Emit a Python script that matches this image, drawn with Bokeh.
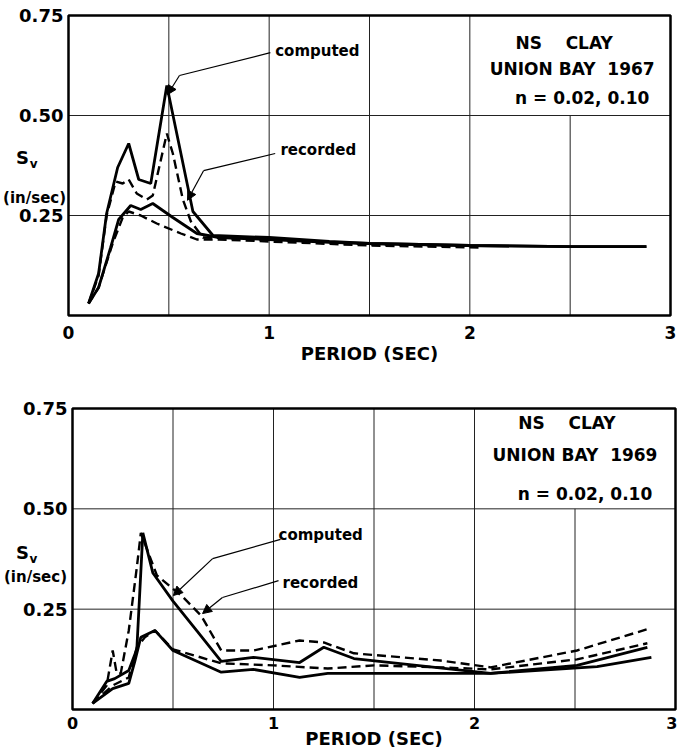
from bokeh.plotting import figure
from bokeh.models import Range1d, FixedTicker, Label, Arrow, NormalHead, NumeralTickFormatter
from bokeh.layouts import column
from bokeh.embed import file_html
from bokeh.resources import INLINE

FONT = "DejaVu Sans"
NB = "\u00a0"

# ---------------- axes / ticks ----------------
x_lim = (0, 3)
y_lim = (0, 0.75)
x_ticks = [0, 1, 2, 3]
y_ticks = [0.25, 0.50, 0.75]
grid_x_full = [0.5, 1.0, 1.5, 2.0]
grid_x_short = [2.5]          # stops under the caption box
grid_x_short_top = 0.5
grid_y = [0.25, 0.50]

# ---------------- 1967 record (top) ----------------
t67_comp02_x = [0.10, 0.15, 0.19, 0.245, 0.30, 0.35, 0.41, 0.49, 0.62, 0.72, 1.0, 1.3, 1.5, 2.0, 2.5, 2.88]
t67_comp02_y = [0.03, 0.105, 0.255, 0.37, 0.43, 0.34, 0.33, 0.575, 0.26, 0.20, 0.195, 0.185, 0.18, 0.175, 0.172, 0.172]
t67_comp10_x = [0.10, 0.15, 0.21, 0.25, 0.31, 0.36, 0.42, 0.52, 0.64, 0.75, 1.0, 1.3, 1.5, 2.0, 2.5, 2.88]
t67_comp10_y = [0.03, 0.07, 0.17, 0.24, 0.275, 0.265, 0.28, 0.245, 0.205, 0.195, 0.19, 0.183, 0.18, 0.175, 0.172, 0.172]
t67_rec02_x = [0.10, 0.15, 0.19, 0.235, 0.27, 0.30, 0.34, 0.39, 0.42, 0.49, 0.52, 0.57, 0.61, 0.67, 1.0, 1.5, 2.05]
t67_rec02_y = [0.03, 0.10, 0.25, 0.335, 0.33, 0.34, 0.305, 0.29, 0.30, 0.455, 0.405, 0.29, 0.235, 0.195, 0.19, 0.178, 0.173]
t67_rec10_x = [0.10, 0.15, 0.22, 0.27, 0.30, 0.36, 0.44, 0.56, 0.64, 0.75, 1.0, 1.5, 2.05]
t67_rec10_y = [0.03, 0.07, 0.18, 0.245, 0.26, 0.25, 0.23, 0.205, 0.19, 0.19, 0.185, 0.175, 0.17]

# ---------------- 1969 record (bottom) ----------------
t69_comp02_x = [0.10, 0.17, 0.21, 0.28, 0.32, 0.35, 0.40, 0.50, 0.62, 0.74, 0.90, 1.13, 1.25, 1.40, 2.08, 2.51, 2.86]
t69_comp02_y = [0.015, 0.07, 0.077, 0.097, 0.15, 0.44, 0.34, 0.27, 0.195, 0.12, 0.13, 0.117, 0.155, 0.127, 0.09, 0.11, 0.155]
t69_comp10_x = [0.10, 0.20, 0.28, 0.31, 0.34, 0.41, 0.50, 0.74, 0.90, 1.13, 1.27, 2.08, 2.61, 2.88]
t69_comp10_y = [0.015, 0.052, 0.065, 0.12, 0.18, 0.197, 0.147, 0.093, 0.10, 0.08, 0.09, 0.09, 0.107, 0.13]
t69_rec02_x = [0.10, 0.17, 0.20, 0.22, 0.24, 0.28, 0.32, 0.34, 0.42, 0.55, 0.64, 0.74, 0.90, 1.13, 1.25, 1.40, 1.83, 2.08, 2.51, 2.86]
t69_rec02_y = [0.015, 0.06, 0.147, 0.09, 0.09, 0.197, 0.354, 0.44, 0.334, 0.28, 0.234, 0.147, 0.147, 0.172, 0.167, 0.14, 0.122, 0.105, 0.147, 0.20]
t69_rec10_x = [0.10, 0.20, 0.28, 0.32, 0.36, 0.41, 0.50, 0.74, 1.0, 1.27, 1.50, 1.83, 2.08, 2.51, 2.86]
t69_rec10_y = [0.015, 0.06, 0.08, 0.155, 0.18, 0.197, 0.15, 0.115, 0.11, 0.102, 0.11, 0.105, 0.10, 0.125, 0.165]

# ---------------- annotations ----------------
t67_caption = ["NS" + NB * 4 + "CLAY", "UNION" + NB + "BAY" + NB * 2 + "1967", "n = 0.02, 0.10"]
t67_caption_x = [2.47, 2.51, 2.56]
t67_caption_y = [0.682, 0.617, 0.543]
t67_comp_leader_x = [1.006, 0.553, 0.493]
t67_comp_leader_y = [0.657, 0.600, 0.552]
t67_rec_leader_x = [1.03, 0.673, 0.593]
t67_rec_leader_y = [0.405, 0.362, 0.288]
t67_comp_text = (1.03, 0.662)
t67_rec_text = (1.056, 0.415)
t67_sv = [(-0.229, 0.395), (-0.174, 0.380), (-0.169, 0.295)]   # "S", "v", "(in/sec)"

t69_caption = ["NS" + NB * 4 + "CLAY", "UNION" + NB + "BAY" + NB * 2 + "1969", "n = 0.02, 0.10"]
t69_caption_x = [2.46, 2.50, 2.55]
t69_caption_y = [0.713, 0.633, 0.538]
t69_comp_leader_x = [1.035, 0.697, 0.502]
t69_comp_leader_y = [0.424, 0.376, 0.284]
t69_rec_leader_x = [1.025, 0.746, 0.647]
t69_rec_leader_y = [0.321, 0.279, 0.239]
t69_comp_text = (1.025, 0.434)
t69_rec_text = (1.045, 0.316)
t69_sv = [(-0.249, 0.391), (-0.194, 0.376), (-0.184, 0.329)]


def make_panel(w, h, f_left, f_right, f_top, f_bottom, series, caption, cap_x, cap_y,
               comp_lx, comp_ly, rec_lx, rec_ly, comp_t, rec_t, sv,
               tick_fs, tick_standoff, lab_fs, lab_standoff):
    # frame covers the whole canvas; the data box (0..3, 0..0.75) sits at the given pixel edges
    xpu = (f_right - f_left) / (x_lim[1] - x_lim[0])
    ypu = (f_bottom - f_top) / (y_lim[1] - y_lim[0])
    xr = Range1d(x_lim[0] - f_left / xpu, x_lim[1] + (w - f_right) / xpu)
    yr = Range1d(y_lim[0] - (h - f_bottom) / ypu, y_lim[1] + f_top / ypu)
    p = figure(width=w, height=h, x_range=xr, y_range=yr,
               output_backend="svg", toolbar_location=None,
               min_border_left=0, min_border_right=0, min_border_top=0, min_border_bottom=0)
    p.background_fill_color = "white"
    p.border_fill_color = "white"
    p.outline_line_color = None
    p.grid.visible = False

    for ax in (p.xaxis[0], p.yaxis[0]):
        ax.fixed_location = 0
        ax.axis_line_color = None
        ax.major_tick_line_color = None
        ax.minor_tick_line_color = None
        ax.major_tick_out = 0
        ax.minor_tick_out = 0
        ax.major_label_text_font = FONT
        ax.major_label_text_font_style = "bold"
        ax.major_label_text_color = "black"
    p.xaxis.bounds = x_lim
    p.yaxis.bounds = y_lim
    p.xaxis.ticker = FixedTicker(ticks=x_ticks)
    p.yaxis.ticker = FixedTicker(ticks=y_ticks)
    p.yaxis.formatter = NumeralTickFormatter(format="0.00")
    p.xaxis.major_label_text_font_size = tick_fs
    p.yaxis.major_label_text_font_size = "18px"
    p.xaxis.major_label_standoff = tick_standoff
    p.yaxis.major_label_standoff = 5
    p.xaxis.axis_label = "PERIOD (SEC)"
    p.xaxis.axis_label_text_font = FONT
    p.xaxis.axis_label_text_font_style = "bold"
    p.xaxis.axis_label_text_font_size = lab_fs
    p.xaxis.axis_label_standoff = lab_standoff
    p.xaxis.axis_label_text_color = "black"

    # grid lines
    p.segment(x0=grid_x_full, y0=[y_lim[0]] * len(grid_x_full), x1=grid_x_full,
              y1=[y_lim[1]] * len(grid_x_full), line_color="#222222", line_width=1)
    p.segment(x0=grid_x_short, y0=[y_lim[0]] * len(grid_x_short), x1=grid_x_short,
              y1=[grid_x_short_top] * len(grid_x_short), line_color="#222222", line_width=1)
    p.segment(x0=[x_lim[0]] * len(grid_y), y0=grid_y, x1=[x_lim[1]] * len(grid_y), y1=grid_y,
              line_color="#222222", line_width=1)
    # plot box
    p.quad(left=[x_lim[0]], right=[x_lim[1]], bottom=[y_lim[0]], top=[y_lim[1]],
           fill_color=None, line_color="black", line_width=2.5)

    # curves
    for xs, ys, dash in series:
        if dash:
            p.line(xs, ys, line_color="black", line_width=2.4, line_dash="9 5")
        else:
            p.line(xs, ys, line_color="black", line_width=2.8)

    # leaders
    for lx, ly in ((comp_lx, comp_ly), (rec_lx, rec_ly)):
        p.line(lx[:2], ly[:2], line_color="black", line_width=1.2)
        p.add_layout(Arrow(end=NormalHead(size=9, fill_color="black", line_color="black"),
                           x_start=lx[1], y_start=ly[1], x_end=lx[2], y_end=ly[2],
                           line_color="black", line_width=1.2))
    for txt, (tx, ty) in (("computed", comp_t), ("recorded", rec_t)):
        p.add_layout(Label(x=tx, y=ty, text=txt, text_font=FONT, text_font_style="bold",
                           text_font_size="15px", text_baseline="middle", text_align="left",
                           text_color="black"))

    # caption box text
    for txt, cx, cy in zip(caption, cap_x, cap_y):
        p.add_layout(Label(x=cx, y=cy, text=txt, text_font=FONT, text_font_style="bold",
                           text_font_size="17px", text_baseline="middle", text_align="center",
                           text_color="black"))

    # y axis title: S_v over (in/sec), horizontal, left of the plot box
    for txt, (tx, ty), fs in zip(["S", "v", "(in/sec)"], sv, ["18px", "12px", "15px"]):
        p.add_layout(Label(x=tx, y=ty, text=txt, text_font=FONT, text_font_style="bold",
                           text_font_size=fs, text_baseline="middle", text_align="center",
                           text_color="black"))
    return p


top = make_panel(677, 380, 68, 670, 15, 315,
                 [(t67_comp02_x, t67_comp02_y, False), (t67_comp10_x, t67_comp10_y, False),
                  (t67_rec02_x, t67_rec02_y, True), (t67_rec10_x, t67_rec10_y, True)],
                 t67_caption, t67_caption_x, t67_caption_y,
                 t67_comp_leader_x, t67_comp_leader_y, t67_rec_leader_x, t67_rec_leader_y,
                 t67_comp_text, t67_rec_text, t67_sv, "17px", 10, "18px", 1)

bottom = make_panel(677, 368, 72, 675, 28, 329,
                    [(t69_comp02_x, t69_comp02_y, False), (t69_comp10_x, t69_comp10_y, False),
                     (t69_rec02_x, t69_rec02_y, True), (t69_rec10_x, t69_rec10_y, True)],
                    t69_caption, t69_caption_x, t69_caption_y,
                    t69_comp_leader_x, t69_comp_leader_y, t69_rec_leader_x, t69_rec_leader_y,
                    t69_comp_text, t69_rec_text, t69_sv, "16px", 7, "18px", -4)

layout = column(top, bottom, spacing=0)
open("out.html", "w").write(file_html(layout, INLINE))
